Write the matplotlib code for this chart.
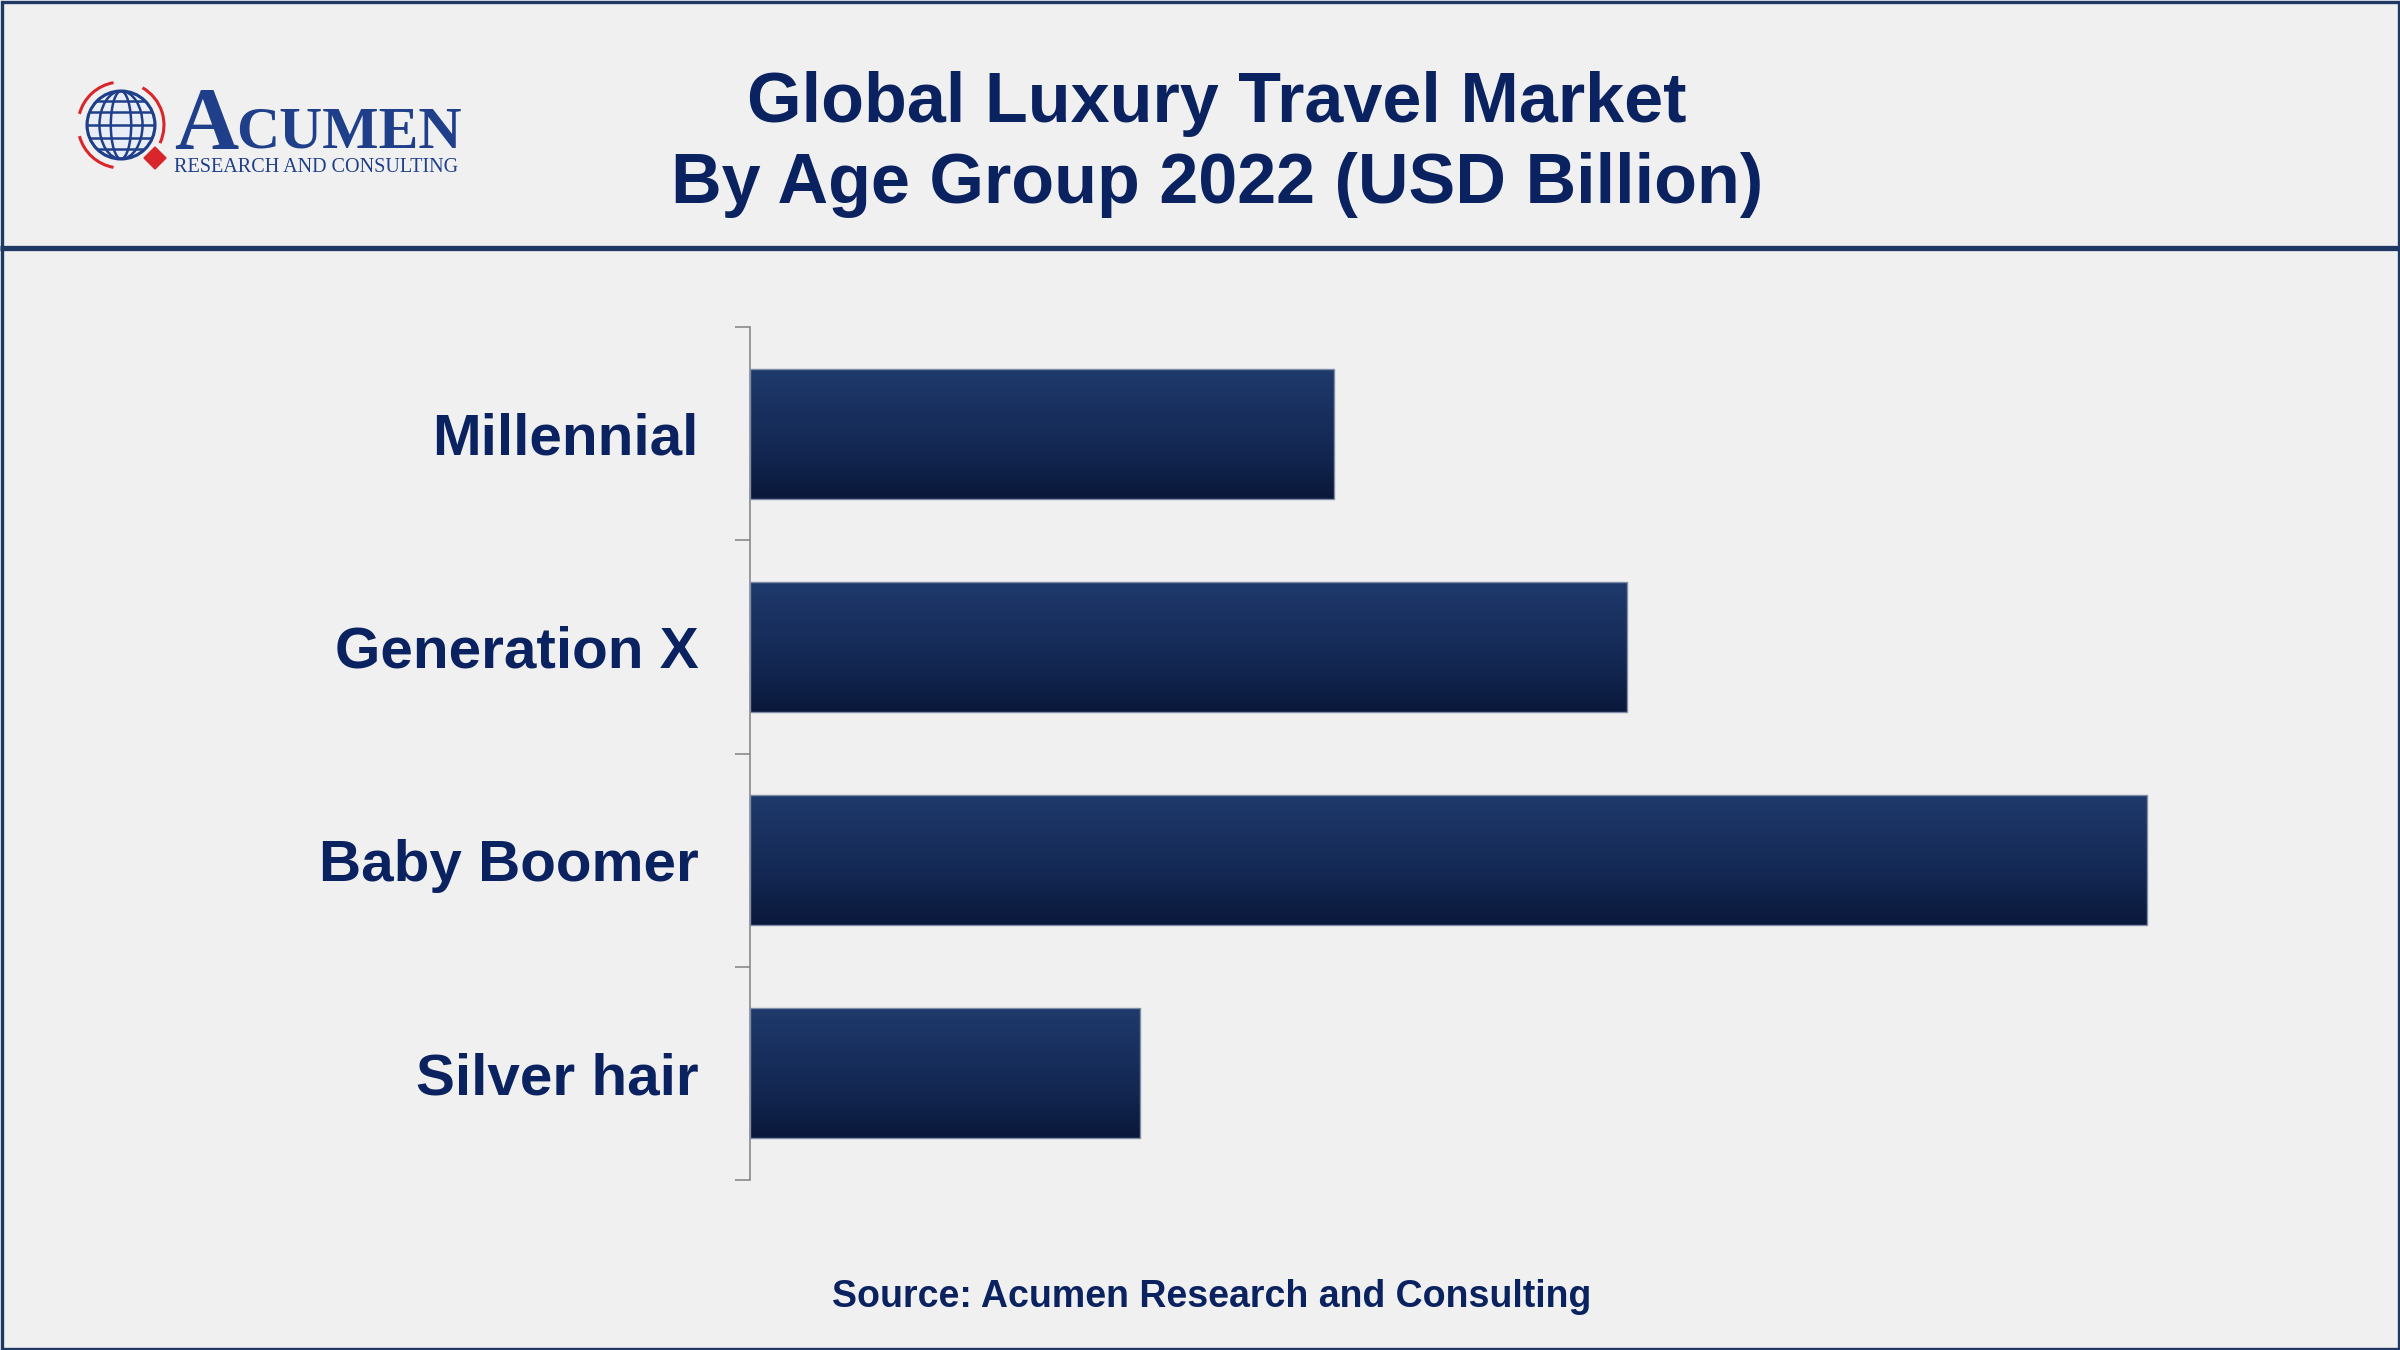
import numpy as np
import matplotlib
matplotlib.use("Agg")
import matplotlib.pyplot as plt
from matplotlib.patches import Rectangle, Circle, Ellipse, Arc, Polygon
from matplotlib.colors import LinearSegmentedColormap

# data (USD Billion)
groups = ["Millennial", "Generation X", "Baby Boomer", "Silver hair"]
values = [217, 326, 519, 145]

source = "Source: Acumen Research and Consulting"

navy = "#0b2260"
bg = "#f0f0f0"
frame = "#1f3864"

plt.rcParams['font.family'] = ['Liberation Sans', 'DejaVu Sans']

fig = plt.figure(figsize=(24, 13.5), dpi=100, facecolor=bg)

# overlay in pixel coordinates for frame, header line and logo
ov = fig.add_axes([0, 0, 1, 1], zorder=0)
ov.set_xlim(0, 2400)
ov.set_ylim(1350, 0)
ov.axis("off")
ov.patch.set_alpha(0)
ov.add_patch(Rectangle((1.5, 1.5), 2397, 1347, fill=False, edgecolor=frame, lw=2.4))
ov.plot([0, 2400], [248, 248], color=frame, lw=3.8, solid_capstyle="butt")

# logo: globe
blue = "#1f3f8a"
red = "#d9262b"
cx, cy, r = 121, 125, 34
ov.add_patch(Circle((cx, cy), r, facecolor="#e9edf5", edgecolor=blue, lw=2.2))
clip = Circle((cx, cy), r, transform=ov.transData)
for w in [0.45, 0.95, 1.5]:
    e = Ellipse((cx, cy), 2 * r * w / 1.5, 2 * r, fill=False, edgecolor=blue, lw=1.8)
    ov.add_patch(e)
    e.set_clip_path(clip)
for dy in [-0.72, -0.38, 0, 0.38, 0.72]:
    ln, = ov.plot([cx - r, cx + r], [cy + dy * r, cy + dy * r], color=blue, lw=1.8)
    ln.set_clip_path(clip)
for a0, a1 in [(100, 165), (195, 260), (300, 385)]:
    ov.add_patch(Arc((cx, cy), 2 * (r + 9), 2 * (r + 9), theta1=a0, theta2=a1,
                     color=red, lw=2.2))
ov.add_patch(Polygon([(155, 147), (166, 158), (155, 169), (144, 158)], closed=True, color=red))

ov.text(174, 148, "A", fontsize=64, family="Liberation Serif", weight="bold",
        color=blue, ha="left", va="baseline")
ov.text(236, 148, "CUMEN", fontsize=43, family="Liberation Serif", weight="bold",
        color=blue, ha="left", va="baseline")
ov.text(174, 172, "RESEARCH AND CONSULTING", fontsize=14.5, family="Liberation Serif",
        color=blue, ha="left", va="baseline")

# title and source
fig.text(0.507, 1 - 122 / 1350, "Global Luxury Travel Market", fontsize=50.5, weight="bold",
         color=navy, ha="center", va="baseline")
fig.text(0.507, 1 - 203 / 1350, "By Age Group 2022 (USD Billion)", fontsize=50.5, weight="bold",
         color=navy, ha="center", va="baseline")
fig.text(0.505, 1 - 1307 / 1350, source, fontsize=27, weight="bold",
         color=navy, ha="center", va="baseline")

# main chart
ax = fig.add_axes([750 / 2400, 1 - 1180 / 1350, 1534 / 2400, 853 / 1350], zorder=1)
ax.patch.set_alpha(0)

y = np.arange(len(groups))
bars = ax.barh(y, values, height=0.61, facecolor="none", edgecolor="#7f8ca6", lw=1.0, zorder=3)

cmap = LinearSegmentedColormap.from_list("bar", ["#1e3a6c", "#19305f", "#122650", "#0a183a"])
grad = np.linspace(0, 1, 256).reshape(-1, 1)
for b in bars:
    x0, y0, w, h = b.get_x(), b.get_y(), b.get_width(), b.get_height()
    im = ax.imshow(grad, extent=[x0, x0 + w, y0 + h, y0], origin="upper", aspect="auto",
                   cmap=cmap, zorder=2, interpolation="bilinear")
    im.set_clip_path(b)

ax.set_xlim(0, 570)
ax.set_ylim(len(groups) - 0.5, -0.5)

for s in ["top", "right", "bottom"]:
    ax.spines[s].set_visible(False)
ax.spines["left"].set_color("#808080")
ax.spines["left"].set_linewidth(1.1)
ax.set_xticks([])
ax.set_yticks(np.arange(len(groups) + 1) - 0.5)
ax.set_yticklabels([])
ax.tick_params(axis="y", which="major", length=10.8, width=1.1, color="#808080")
ax.set_yticks(y, groups, minor=True)
ax.tick_params(axis="y", which="minor", length=0, pad=37, labelsize=42, labelcolor=navy)
for lab in ax.get_yticklabels(minor=True):
    lab.set_fontweight("bold")

fig.savefig("out.png", dpi=100, facecolor=bg)
